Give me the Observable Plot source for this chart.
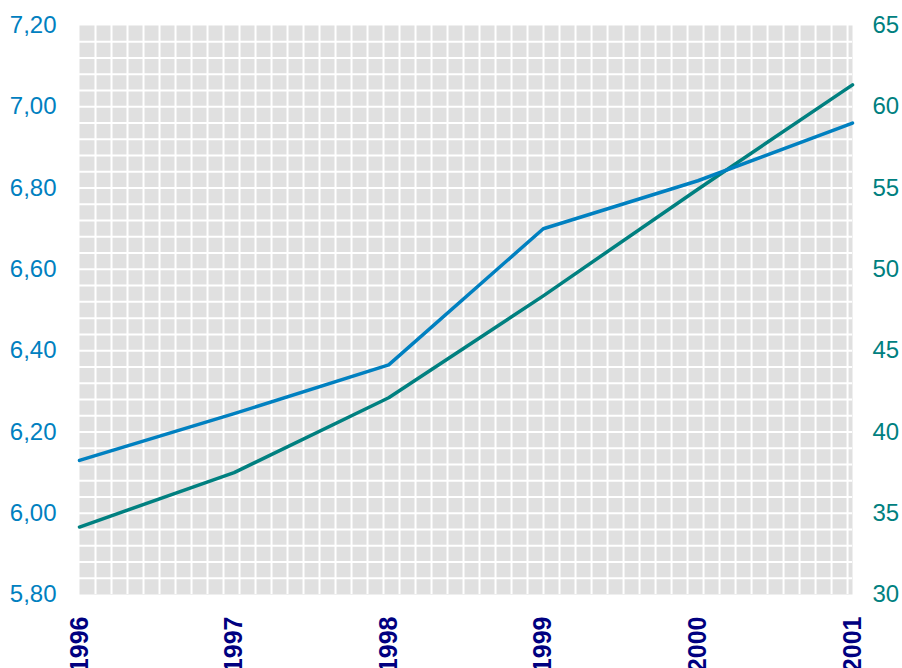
<!DOCTYPE html>
<html>
<head>
<meta charset="utf-8">
<script src="https://cdn.jsdelivr.net/npm/d3@7"></script>
<script src="https://cdn.jsdelivr.net/npm/@observablehq/plot@0.6"></script>
<style>
  html, body { margin: 0; padding: 0; background: #fff; }
  svg { display: block; }
</style>
</head>
<body>
<div id="chart"></div>
<script>
const years = [1996, 1997, 1998, 1999, 2000, 2001];
const blueValues = [6.13, 6.245, 6.365, 6.70, 6.818, 6.96];   // left axis
const tealValues = [34.15, 37.5, 42.1, 48.37, 54.93, 61.35];  // right axis
const leftTicks = [5.8, 6.0, 6.2, 6.4, 6.6, 6.8, 7.0, 7.2];
const rightTicks = [30, 35, 40, 45, 50, 55, 60, 65];

// map right axis (30..65) onto left axis (5.8..7.2)
const toLeft = v => 5.8 + (v - 30) * (1.4 / 35);
const fromLeft = v => Math.round(30 + (v - 5.8) * (35 / 1.4));

const blueData = years.map((y, i) => ({year: y, value: blueValues[i]}));
const tealData = years.map((y, i) => ({year: y, value: toLeft(tealValues[i])}));

const hGrid = d3.range(1, 35).map(k => 5.8 + k * 0.04);
const vStep = 0.1035;
const vGrid = d3.range(1, 49).map(k => 1996 + k * vStep);

const comma = d => d.toFixed(2).replace(".", ",");

const chart = Plot.plot({
  width: 902,
  height: 668,
  marginLeft: 79,
  marginRight: 50,
  marginTop: 25,
  marginBottom: 74,
  style: {fontFamily: "'Liberation Sans', Arial, sans-serif", background: "#fff"},
  x: {domain: [1996, 2001]},
  y: {domain: [5.8, 7.2]},
  marks: [
    Plot.frame({fill: "#e0e0e0", stroke: null}),
    Plot.ruleY(hGrid, {stroke: "#fff", strokeWidth: 2}),
    Plot.ruleX(vGrid, {stroke: "#fff", strokeWidth: 2}),
    Plot.axisY(leftTicks, {anchor: "left", tickSize: 0, tickPadding: 23, tickFormat: comma,
      fontSize: 24, fill: "#0080c0", label: null}),
    Plot.axisY(rightTicks.map(toLeft), {anchor: "right", tickSize: 0, tickPadding: 20,
      tickFormat: d => String(fromLeft(d)), fontSize: 24, fill: "#008080", label: null}),
    Plot.axisX(years, {anchor: "bottom", tickSize: 0, tickPadding: 22, tickRotate: -90,
      tickFormat: d => String(d), fontSize: 25, fontWeight: "bold", fill: "#000080", label: null}),
    Plot.line(tealData, {x: "year", y: "value", stroke: "#008080", strokeWidth: 3.5}),
    Plot.line(blueData, {x: "year", y: "value", stroke: "#0080c0", strokeWidth: 3.5})
  ]
});
document.getElementById("chart").appendChild(chart);
</script>
</body>
</html>
